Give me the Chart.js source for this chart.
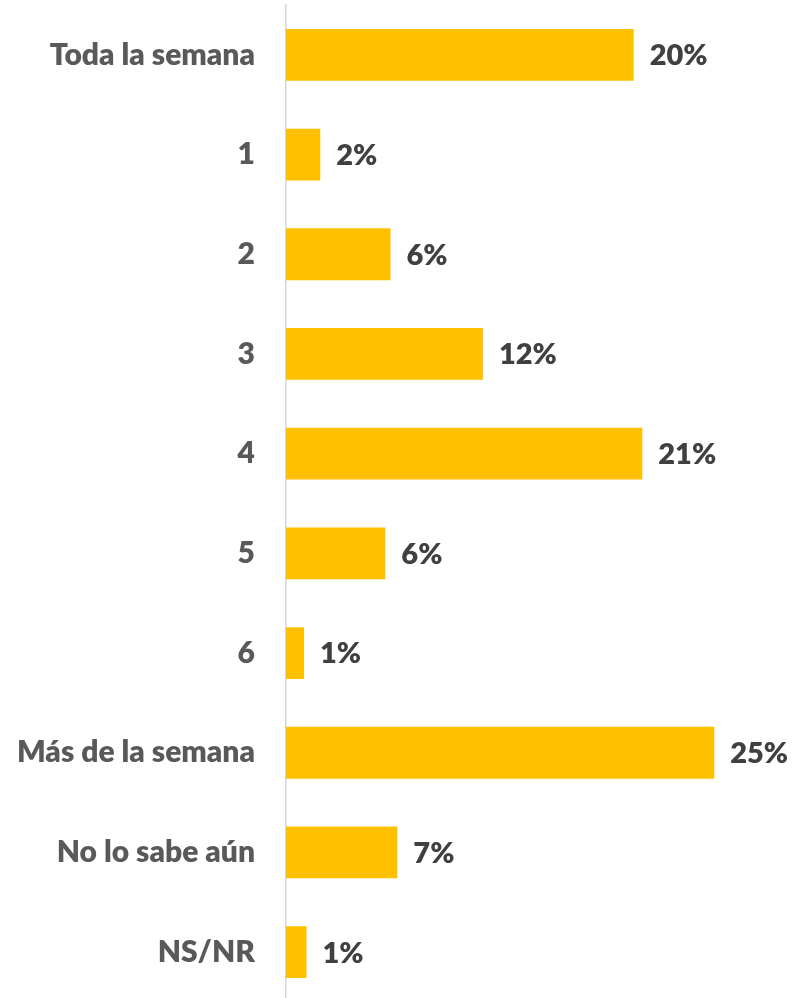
<!DOCTYPE html>
<html>
<head>
<meta charset="utf-8">
<script src="https://cdn.jsdelivr.net/npm/chart.js@4/dist/chart.umd.min.js"></script>
<style>
html,body{margin:0;padding:0;background:#fff;overflow:hidden;}
#wrap{position:relative;width:793px;height:1002px;}
</style>
</head>
<body>
<div id="wrap"><canvas id="c" width="793" height="1002"></canvas></div>
<script>
const categories = ["Toda la semana","1","2","3","4","5","6","Más de la semana","No lo sabe aún","NS/NR"];
const values = [20.3, 2.0, 6.1, 11.5, 20.8, 5.8, 1.05, 25.0, 6.5, 1.2];
const valueLabels = ["20%","2%","6%","12%","21%","6%","1%","25%","7%","1%"];

const FONT = "Lato";

const labelPlugin = {
  id: 'barLabels',
  afterDatasetsDraw(chart) {
    const ctx = chart.ctx;
    const meta = chart.getDatasetMeta(0);
    ctx.save();
    ctx.font = "800 29px " + FONT;
    ctx.fillStyle = "#404040";
    ctx.textAlign = "left";
    ctx.textBaseline = "middle";
    meta.data.forEach((bar, i) => {
      ctx.fillText(valueLabels[i], bar.x + 16, bar.y + 1);
    });
    ctx.restore();
  }
};

new Chart(document.getElementById('c'), {
  type: 'bar',
  data: {
    labels: categories,
    datasets: [{
      data: values,
      backgroundColor: '#FFC000',
      borderWidth: 0,
      barPercentage: 0.52,
      categoryPercentage: 1.0
    }]
  },
  options: {
    indexAxis: 'y',
    responsive: false,
    animation: false,
    layout: { padding: { top: 5, bottom: 0, left: 0, right: 0 } },
    plugins: { legend: { display: false }, tooltip: { enabled: false } },
    scales: {
      x: { display: false, min: 0, max: 29.6 },
      y: {
        afterFit(scale) { scale.width = 286; scale.paddingTop = 0; scale.paddingBottom = 0; },
        grid: { display: false, drawTicks: false },
        border: { display: true, color: '#D6D6D6', width: 1.5 },
        ticks: {
          padding: 31,
          color: '#595959',
          font: { family: FONT, size: 30, weight: '800' }
        }
      }
    }
  },
  plugins: [labelPlugin]
});
</script>
</body>
</html>
